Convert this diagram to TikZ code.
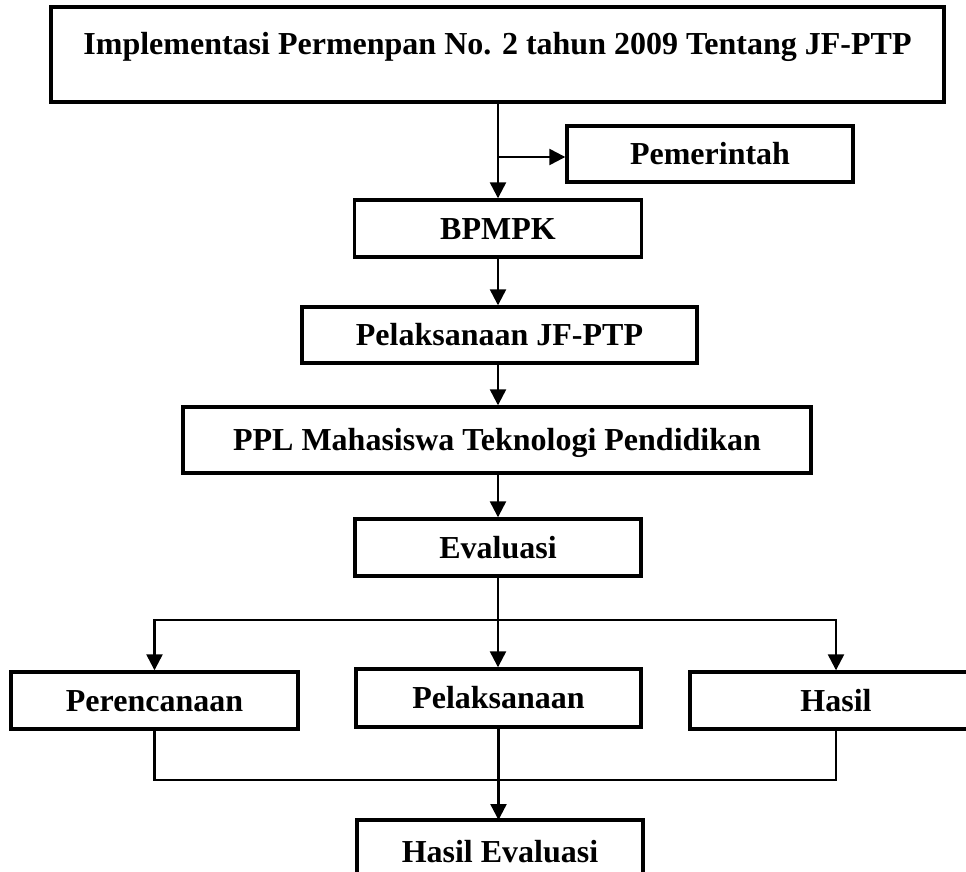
\documentclass[tikz,border=0pt]{standalone}
\usepackage{fontspec}
\setmainfont{Liberation Serif}
\usetikzlibrary{arrows.meta}
\begin{document}
\begin{tikzpicture}[x=1pt,y=-1pt,
  box/.style={draw, line width=3.4pt, inner sep=0pt, font=\fontsize{32}{36}\selectfont\bfseries,
    text height=21pt, text depth=0pt, anchor=center},
  lbl/.style={inner sep=0pt, font=\fontsize{32}{36}\selectfont\bfseries, text height=21pt, text depth=0pt},
  frame/.style={draw, line width=3.4pt},
  arr/.style={line width=2.4pt, -{Triangle[length=16pt,width=16pt]}},
  ln/.style={line width=2.4pt}]
\useasboundingbox (0,0) rectangle (966,872);
\clip (0,0) rectangle (966,872);
\node[box, minimum width=893pt, minimum height=95pt, text depth=20pt] (top) at (497.5,54.5) {Implementasi Permenpan No. 2 tahun 2009 Tentang JF-PTP};
\node[box, minimum width=286pt, minimum height=56pt] (pem) at (710,154) {Pemerintah};
\node[box, minimum width=287pt, minimum height=57pt] (bp) at (498,228.5) {BPMPK};
\node[box, minimum width=395pt, minimum height=56pt] (jf) at (499.5,335) {Pelaksanaan JF-PTP};
\node[box, minimum width=628pt, minimum height=66pt] (ppl) at (497,440) {PPL Mahasiswa Teknologi Pendidikan};
\node[box, minimum width=286pt, minimum height=57pt] (ev) at (498,547.5) {Evaluasi};
\node[box, minimum width=287pt, minimum height=57pt] (per) at (154.5,700.5) {Perencanaan};
\node[box, minimum width=285pt, minimum height=58pt] (pel) at (498.5,698) {Pelaksanaan};
\node[box, minimum width=292pt, minimum height=57pt] (has) at (836,700.5) {Hasil};
% Hasil Evaluasi: box runs off the bottom edge
\coordinate (hetop) at (500,820);
\draw[frame] (357,820) rectangle (643,900);
\node[lbl] (he) at (500,852) {Hasil Evaluasi};
% connectors
\coordinate (br) at (498,157);
\draw[arr] (top.south -| bp.north) -- (bp.north);
\draw[arr] (br) -- (br -| pem.west);
\draw[arr] (bp.south) -- (bp.south |- jf.north);
\draw[arr] (bp.south |- jf.south) -- (bp.south |- ppl.north);
\draw[arr] (ev.north |- ppl.south) -- (ev.north);
\coordinate (sp) at (498,620);
\draw[ln] (ev.south) -- (sp);
\draw[arr] (sp) -- (sp |- pel.north);
\draw[arr] (sp) -| (per.north);
\draw[arr] (sp) -| (has.north);
\coordinate (jn) at (498,780);
\draw[ln] (per.south) |- (jn) -| (has.south);
\draw[arr] (pel.south) -- (pel.south |- hetop);
\end{tikzpicture}
\end{document}
